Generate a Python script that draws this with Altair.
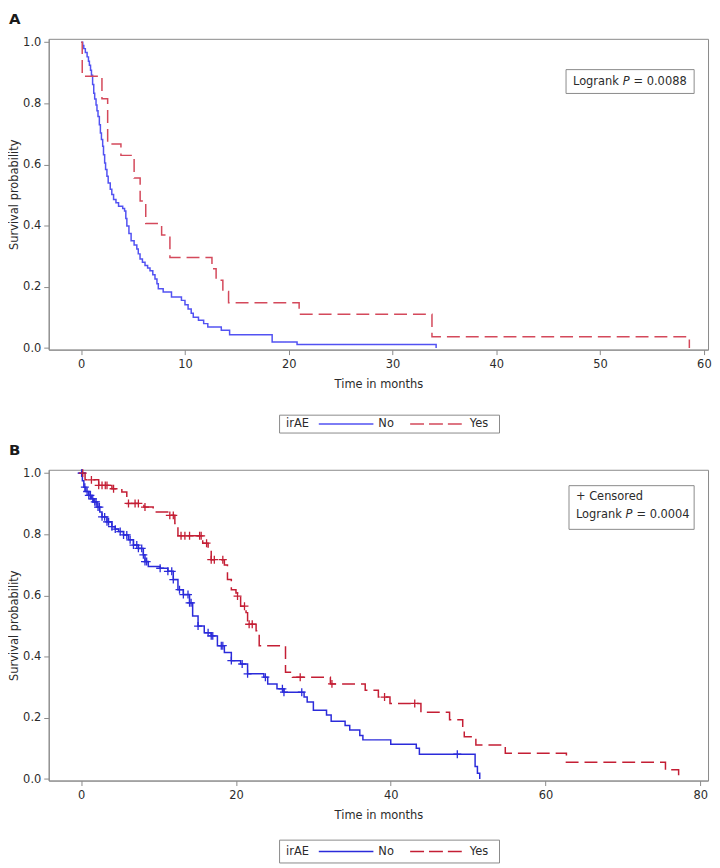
import altair as alt
import pandas as pd

# ---------------- Panel A (Kaplan-Meier step curves) ----------------
a_no_time = [0, 0.15, 0.25, 0.4, 0.57, 0.7, 0.79, 0.9, 0.99, 1.1, 1.21, 1.3, 1.43, 1.52, 1.62,
             1.75, 1.85, 1.95, 2.07, 2.15, 2.26, 2.35, 2.48, 2.6, 2.8, 2.95, 3.12, 3.35, 3.6,
             4.0, 4.18, 4.3, 4.4, 4.6, 4.81, 5.1, 5.36, 5.5, 5.67, 5.9, 6.15, 6.4, 6.63, 6.9,
             7.11, 7.3, 7.43, 7.9, 8.7, 9.66, 10.0, 10.3, 10.6, 10.8, 11.3, 11.8, 12.2, 13.5,
             14.3, 18.4, 20.8, 34.2]
a_no_surv = [1.0, 0.989, 0.979, 0.966, 0.952, 0.938, 0.925, 0.908, 0.892, 0.862, 0.833, 0.814,
             0.795, 0.776, 0.757, 0.730, 0.703, 0.682, 0.660, 0.632, 0.605, 0.584, 0.562, 0.540,
             0.519, 0.502, 0.486, 0.475, 0.464, 0.456, 0.448, 0.424, 0.399, 0.375, 0.351, 0.337,
             0.324, 0.308, 0.291, 0.281, 0.270, 0.262, 0.253, 0.240, 0.226, 0.210, 0.194, 0.183,
             0.167, 0.156, 0.142, 0.128, 0.114, 0.101, 0.091, 0.080, 0.069, 0.058, 0.044, 0.020,
             0.012, 0.0]
a_yes_time = [0, 0.1, 2.0, 2.55, 3.83, 5.1, 5.68, 6.22, 7.75, 8.55, 12.6, 13.0, 13.65, 14.2,
              21.0, 33.8, 58.6]
a_yes_surv = [1.0, 0.889, 0.815, 0.667, 0.630, 0.556, 0.481, 0.407, 0.370, 0.296, 0.259, 0.222,
              0.185, 0.148, 0.111, 0.037, 0.0]

# ---------------- Panel B ----------------
b_no_time = [0, 0.15, 0.34, 0.6, 0.98, 1.3, 1.62, 2.05, 2.4, 2.69, 3.33, 3.97, 4.4, 4.83, 5.47,
             6.11, 6.75, 7.39, 8.03, 8.24, 8.67, 10.2, 11.2, 11.9, 12.5, 13.2, 14.0, 14.4, 15.1,
             15.9, 16.8, 17.6, 18.5, 19.4, 20.6, 21.5, 23.6, 24.1, 25.3, 26.2, 28.8, 29.2, 30.0,
             31.7, 32.3, 34.1, 34.7, 36.0, 36.4, 40.0, 43.3, 43.7, 50.9, 51.2, 51.5]
b_no_surv = [1.0, 0.975, 0.954, 0.94, 0.927, 0.916, 0.906, 0.889, 0.873, 0.857, 0.841, 0.825,
             0.817, 0.809, 0.798, 0.782, 0.765, 0.754, 0.733, 0.711, 0.695, 0.689, 0.679, 0.652,
             0.619, 0.603, 0.576, 0.533, 0.500, 0.478, 0.468, 0.436, 0.414, 0.387, 0.376, 0.344,
             0.333, 0.311, 0.295, 0.284, 0.268, 0.252, 0.225, 0.209, 0.189, 0.175, 0.160, 0.142,
             0.128, 0.114, 0.101, 0.081, 0.041, 0.019, 0.0]
b_yes_time = [0, 0.5, 2.26, 3.97, 5.25, 5.89, 8.1, 9.3, 11.45, 12.1, 12.5, 15.7, 16.4, 16.8,
              18.5, 18.9, 19.4, 20.0, 20.2, 20.6, 21.3, 21.5, 22.6, 23.0, 26.4, 27.3, 32.2,
              36.7, 38.4, 39.9, 43.9, 47.6, 49.3, 49.5, 51.0, 54.8, 62.7, 75.5, 77.2]
b_yes_surv = [1.0, 0.978, 0.960, 0.949, 0.938, 0.901, 0.889, 0.873, 0.862, 0.835, 0.795, 0.771,
              0.749, 0.717, 0.700, 0.652, 0.619, 0.608, 0.598, 0.565, 0.544, 0.506, 0.485, 0.436,
              0.349, 0.333, 0.311, 0.290, 0.268, 0.247, 0.218, 0.194, 0.160, 0.138, 0.111, 0.084,
              0.055, 0.030, 0.0]
b_no_censor = [0.05, 0.12, 0.47, 0.76, 0.98, 1.19, 1.49, 1.75, 1.92, 2.17, 2.35, 2.69, 3.03,
               3.33, 3.54, 3.97, 4.4, 5.04, 5.47, 5.89, 6.32, 6.75, 7.18, 7.39, 7.82, 8.03, 8.24,
               8.46, 10.2, 11.2, 11.7, 11.9, 12.7, 13.2, 13.8, 14.0, 14.2, 15.1, 16.4, 16.8,
               17.0, 18.1, 18.3, 19.4, 20.8, 21.5, 23.8, 26.0, 26.2, 28.5, 48.6]
b_yes_censor = [0.2, 1.32, 2.26, 2.69, 3.11, 3.33, 4.18, 6.11, 6.96, 7.39, 8.24, 11.45, 11.9,
                12.9, 13.4, 14.0, 15.3, 15.5, 16.2, 16.8, 17.2, 18.3, 20.2, 21.1, 21.7, 22.1,
                28.3, 32.4, 39.2, 43.1]

groups = ["No", "Yes"]
x_ticks_a = [0, 10, 20, 30, 40, 50, 60]
x_ticks_b = [0, 20, 40, 60, 80]
y_ticks = [0.0, 0.2, 0.4, 0.6, 0.8, 1.0]

FONT = "DejaVu Sans"
FS = 11.5
GRAY = "#8a8a8a"
TXT = "#2b2b2b"
W, H = 664, 313


def step_df(times, survs):
    return pd.DataFrame({"time": times, "surv": survs})


def censor_df(times, survs, cens):
    rows = []
    for c in cens:
        s = survs[0]
        for t, v in zip(times, survs):
            if t <= c:
                s = v
        rows.append({"time": c, "surv": s})
    return pd.DataFrame(rows)


one = pd.DataFrame({"k": [0]})


def panel(no_t, no_s, yes_t, yes_s, xdom, xticks, label, c_no, c_yes, box, lines,
          legend_y, no_cens=None, yes_cens=None):
    xs = alt.Scale(domain=xdom, nice=False, zero=False)
    ys = alt.Scale(domain=[-0.005, 1.011], nice=False, zero=False)
    xax = alt.Axis(values=xticks, title="Time in months", grid=False, tickSize=5,
                   labelPadding=4, titlePadding=9, format="d")
    yax = alt.Axis(values=y_ticks, title="Survival probability", grid=False, tickSize=5,
                   labelPadding=3, format=".1f", titlePadding=3)
    layers = []
    for (t, s, col, dash) in [(no_t, no_s, c_no, [1, 0]), (yes_t, yes_s, c_yes, [13, 6])]:
        layers.append(
            alt.Chart(step_df(t, s)).mark_line(interpolate="step-after", color=col,
                                                strokeWidth=1.5, strokeDash=dash)
            .encode(x=alt.X("time:Q", scale=xs, axis=xax),
                    y=alt.Y("surv:Q", scale=ys, axis=yax))
        )
    for cens, t, s, col in [(no_cens, no_t, no_s, c_no), (yes_cens, yes_t, yes_s, c_yes)]:
        if cens:
            layers.append(
                alt.Chart(censor_df(t, s, cens)).mark_point(
                    shape="M-1,0L1,0M0,-1L0,1", filled=False, size=64, strokeWidth=1.3,
                    color=col, opacity=1)
                .encode(x=alt.X("time:Q", scale=xs), y=alt.Y("surv:Q", scale=ys))
            )
    base = alt.Chart(one)
    # Panel label
    layers.append(base.mark_text(text=label, font=FONT, fontSize=15, fontWeight="bold",
                                 align="left", baseline="top", color="#1a1a1a")
                  .encode(x=alt.value(-40), y=alt.value(-27)))
    # Logrank box
    bx0, bx1, by0, by1 = box
    layers.append(base.mark_rect(fill="white", stroke=GRAY, strokeWidth=1)
                  .encode(x=alt.value(bx0), x2=alt.value(bx1), y=alt.value(by0), y2=alt.value(by1)))
    for (tx, ty, txt, italic) in lines:
        layers.append(base.mark_text(text=txt, font=FONT, fontSize=FS, align="left",
                                     baseline="middle", color=TXT,
                                     fontStyle="italic" if italic else "normal")
                      .encode(x=alt.value(tx), y=alt.value(ty)))
    # Legend
    ly0, ly1 = legend_y
    lyc = (ly0 + ly1) / 2
    layers.append(base.mark_rect(fill="white", stroke=GRAY, strokeWidth=1)
                  .encode(x=alt.value(232.5), x2=alt.value(454), y=alt.value(ly0), y2=alt.value(ly1)))
    layers.append(base.mark_text(text="irAE", font=FONT, fontSize=FS, align="left",
                                 baseline="middle", color=TXT)
                  .encode(x=alt.value(239), y=alt.value(lyc)))
    layers.append(base.mark_rule(color=c_no, strokeWidth=1.5)
                  .encode(x=alt.value(272), x2=alt.value(327), y=alt.value(lyc)))
    layers.append(base.mark_text(text=groups[0], font=FONT, fontSize=FS, align="left",
                                 baseline="middle", color=TXT)
                  .encode(x=alt.value(332), y=alt.value(lyc)))
    layers.append(base.mark_rule(color=c_yes, strokeWidth=1.5, strokeDash=[14, 5])
                  .encode(x=alt.value(364), x2=alt.value(418), y=alt.value(lyc)))
    layers.append(base.mark_text(text=groups[1], font=FONT, fontSize=FS, align="left",
                                 baseline="middle", color=TXT)
                  .encode(x=alt.value(424), y=alt.value(lyc)))
    return alt.layer(*layers).properties(width=W, height=H)


chart_a = panel(a_no_time, a_no_surv, a_yes_time, a_yes_surv, [-3.13, 60.4], x_ticks_a, "A",
                "#5252f2", "#d4495b",
                (521, 650, 31, 55),
                [(528, 43, "Logrank", False), (578, 43, "P", True), (589, 43, "= 0.0088", False)],
                (379, 397))

chart_b = panel(b_no_time, b_no_surv, b_yes_time, b_yes_surv, [-4.2, 81.0], x_ticks_b, "B",
                "#2b2bda", "#c41e34",
                (524, 650, 16, 60),
                [(531, 27, "+ Censored", False), (531, 46, "Logrank", False),
                 (581, 46, "P", True), (592, 46, "= 0.0004", False)],
                (373, 396), b_no_censor, b_yes_censor)

chart = alt.vconcat(chart_a, chart_b, spacing=8).properties(
    padding={"left": 0, "top": 0, "right": 0, "bottom": 0}
).configure_view(stroke=GRAY, strokeWidth=1).configure_axis(
    domainColor=GRAY, tickColor=GRAY, labelColor=TXT, titleColor=TXT,
    labelFont=FONT, titleFont=FONT, labelFontSize=FS, titleFontSize=FS,
    titleFontWeight="normal"
)

chart.save("out.html", embed_options={"renderer": "svg", "actions": False})
